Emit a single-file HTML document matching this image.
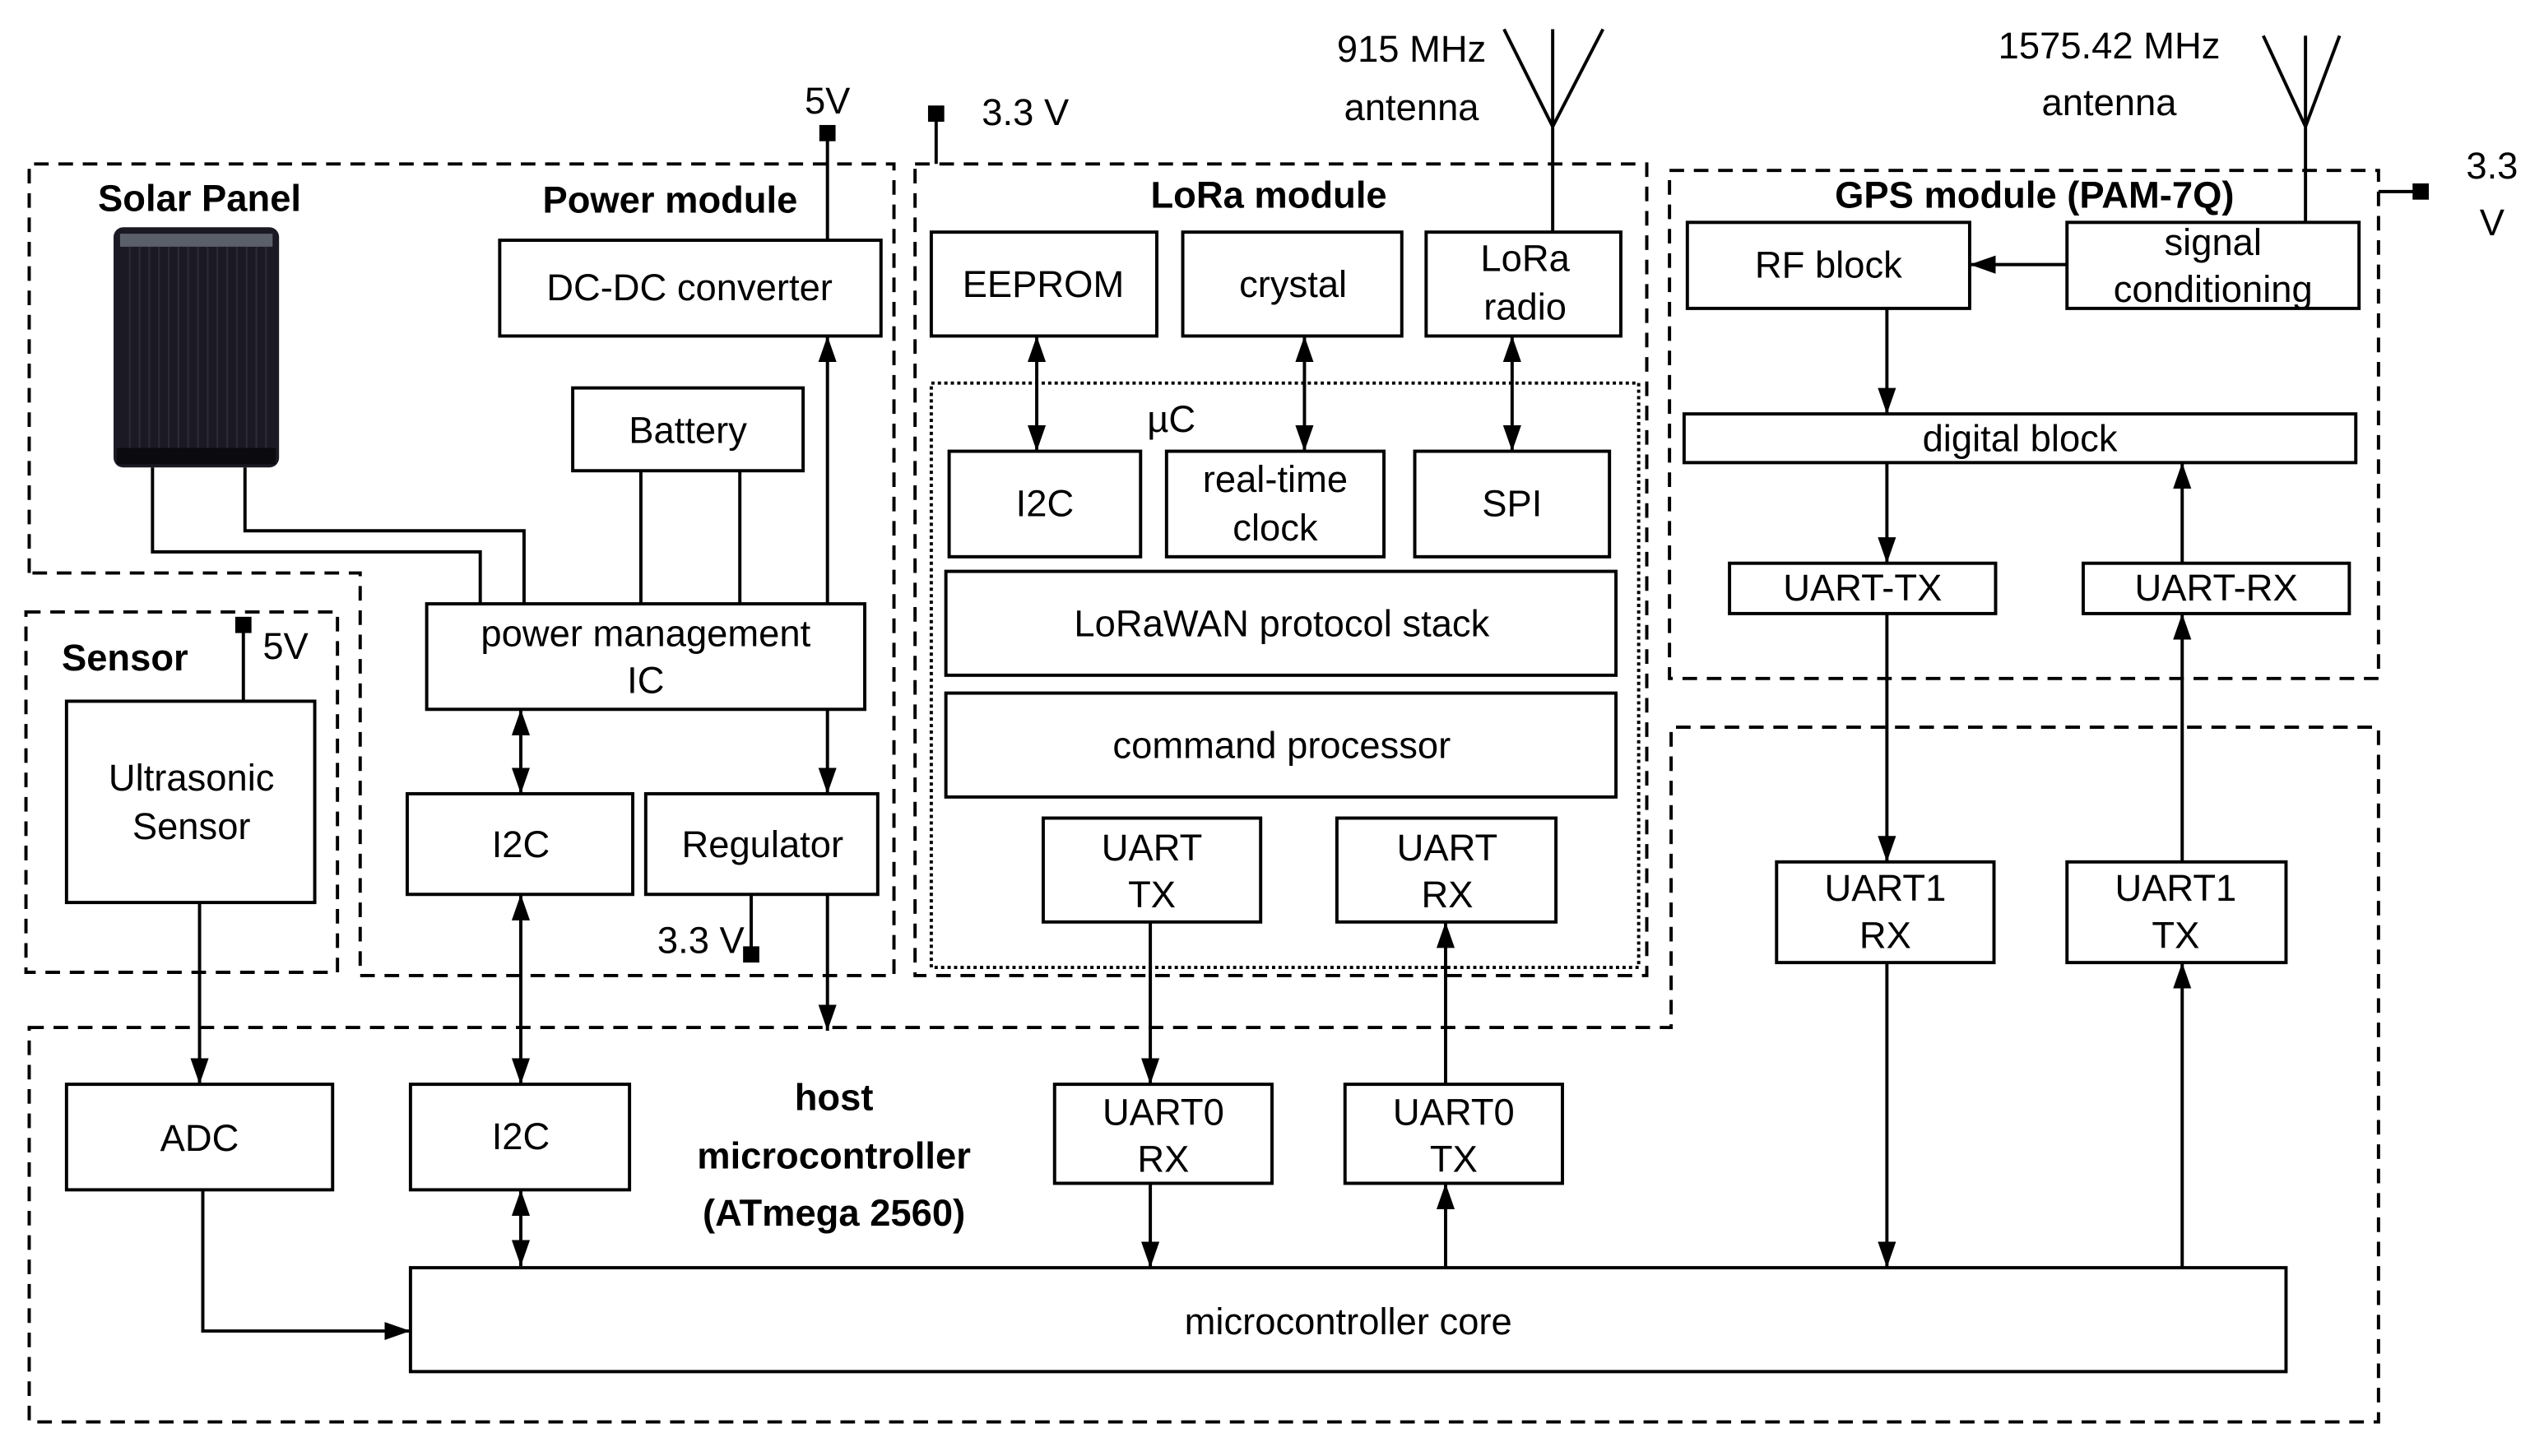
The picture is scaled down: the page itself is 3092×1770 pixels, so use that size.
<!DOCTYPE html>
<html><head><meta charset="utf-8"><style>
html,body{margin:0;padding:0;background:#fff;}
svg{display:block;}
text{font-family:"Liberation Sans",sans-serif;font-size:23px;fill:#000;text-anchor:middle;}
.b{font-weight:bold;}
</style></head><body>
<svg width="3092" height="1770" viewBox="0 0 1568 897" preserveAspectRatio="none" xmlns="http://www.w3.org/2000/svg">
<defs>
<marker id="ah" viewBox="0 0 10 10" refX="10" refY="5" markerWidth="16" markerHeight="16" orient="auto-start-reverse" markerUnits="userSpaceOnUse"><path d="M0,1.5 L10,5 L0,8.5 z" fill="#000"/></marker>
</defs>
<g fill="none" stroke="#000" stroke-width="2" stroke-dasharray="9,6">
<path d="M18,353 V101 H551 V601 H222 V353 Z"/>
<rect x="16" y="377" width="192" height="222"/>
<rect x="564" y="101" width="451" height="500"/>
<rect x="1029" y="105" width="437" height="313"/>
<path d="M18,633 H1030 V448 H1466 V876 H18 Z"/>
</g>
<rect x="574" y="236" width="436" height="360" fill="none" stroke="#000" stroke-width="2" stroke-dasharray="2,2"/>

<!-- solar panel -->
<rect x="70" y="140" width="102" height="148" rx="6" fill="#1b1a24"/>
<rect x="74" y="144" width="94" height="8" fill="#5b5f6a"/>
<g stroke="#2c2b38" stroke-width="1">
<path d="M80,152V276M86,152V276M92,152V276M98,152V276M104,152V276M110,152V276M116,152V276M122,152V276M128,152V276M134,152V276M140,152V276M146,152V276M152,152V276M158,152V276M164,152V276"/>
</g>
<rect x="72" y="276" width="98" height="10" fill="#0a0a0f"/>

<g fill="none" stroke="#000" stroke-width="2">
<rect x="308" y="148" width="235" height="59"/>
<rect x="353" y="239" width="142" height="51"/>
<rect x="263" y="372" width="270" height="65"/>
<rect x="251" y="489" width="139" height="62"/>
<rect x="398" y="489" width="143" height="62"/>
<rect x="41" y="432" width="153" height="124"/>
<rect x="41" y="668" width="164" height="65"/>
<rect x="253" y="668" width="135" height="65"/>
<rect x="253" y="781" width="1156" height="64"/>
<rect x="574" y="143" width="139" height="64"/>
<rect x="729" y="143" width="135" height="64"/>
<rect x="879" y="143" width="120" height="64"/>
<rect x="585" y="278" width="118" height="65"/>
<rect x="719" y="278" width="134" height="65"/>
<rect x="872" y="278" width="120" height="65"/>
<rect x="583" y="352" width="413" height="64"/>
<rect x="583" y="427" width="413" height="64"/>
<rect x="643" y="504" width="134" height="64"/>
<rect x="824" y="504" width="135" height="64"/>
<rect x="650" y="668" width="134" height="61"/>
<rect x="829" y="668" width="134" height="61"/>
<rect x="1040" y="137" width="174" height="53"/>
<rect x="1274" y="137" width="180" height="53"/>
<rect x="1038" y="255" width="414" height="30"/>
<rect x="1066" y="347" width="164" height="31"/>
<rect x="1284" y="347" width="164" height="31"/>
<rect x="1095" y="531" width="134" height="62"/>
<rect x="1274" y="531" width="135" height="62"/>

<path d="M94,288 V340 H296 V372"/>
<path d="M151,288 V327 H323 V372"/>
<path d="M395,290 V372 M456,290 V372"/>
<path d="M510,148 V84"/>
<path d="M463,551 V588"/>
<path d="M150,385 V432"/>
<path d="M577,70 V101"/>
<path d="M957,143 V18 M957,78 L927,18 M957,78 L988,18"/>
<path d="M1421,137 V22 M1421,78 L1395,22 M1421,78 L1442,22"/>
<path d="M1466,118 H1490"/>

<path d="M510,372 V207" marker-end="url(#ah)"/>
<path d="M321,437 V489" marker-start="url(#ah)" marker-end="url(#ah)"/>
<path d="M510,437 V489" marker-end="url(#ah)"/>
<path d="M510,551 V635" marker-end="url(#ah)"/>
<path d="M123,556 V668" marker-end="url(#ah)"/>
<path d="M321,551 V668" marker-start="url(#ah)" marker-end="url(#ah)"/>
<path d="M321,733 V780" marker-start="url(#ah)" marker-end="url(#ah)"/>
<path d="M125,733 V820 H253" marker-end="url(#ah)"/>
<path d="M639,207 V278" marker-start="url(#ah)" marker-end="url(#ah)"/>
<path d="M804,207 V278" marker-start="url(#ah)" marker-end="url(#ah)"/>
<path d="M932,207 V278" marker-start="url(#ah)" marker-end="url(#ah)"/>
<path d="M709,568 V668" marker-end="url(#ah)"/>
<path d="M709,729 V781" marker-end="url(#ah)"/>
<path d="M891,668 V568" marker-end="url(#ah)"/>
<path d="M891,781 V729" marker-end="url(#ah)"/>
<path d="M1274,163 H1214" marker-end="url(#ah)"/>
<path d="M1163,190 V255" marker-end="url(#ah)"/>
<path d="M1163,285 V347" marker-end="url(#ah)"/>
<path d="M1345,347 V285" marker-end="url(#ah)"/>
<path d="M1163,378 V531" marker-end="url(#ah)"/>
<path d="M1345,531 V378" marker-end="url(#ah)"/>
<path d="M1163,593 V781" marker-end="url(#ah)"/>
<path d="M1345,781 V593" marker-end="url(#ah)"/>
</g>
<g fill="#000">
<rect x="505" y="77" width="10" height="10"/>
<rect x="458" y="583" width="10" height="10"/>
<rect x="145" y="380" width="10" height="10"/>
<rect x="572" y="65" width="10" height="10"/>
<rect x="1487" y="113" width="10" height="10"/>
</g>

<text class="b" x="123" y="130">Solar Panel</text>
<text class="b" x="413" y="131">Power module</text>
<text class="b" x="782" y="128">LoRa module</text>
<text class="b" x="1254" y="128">GPS module (PAM-7Q)</text>
<text class="b" x="77" y="413">Sensor</text>
<text class="b" x="514" y="684">host</text>
<text class="b" x="514" y="720">microcontroller</text>
<text class="b" x="514" y="755">(ATmega 2560)</text>

<text x="510" y="70">5V</text>
<text x="632" y="77">3.3 V</text>
<text x="432" y="587">3.3 V</text>
<text x="176" y="406">5V</text>
<text x="870" y="38">915 MHz</text>
<text x="870" y="74">antenna</text>
<text x="1300" y="36">1575.42 MHz</text>
<text x="1300" y="71">antenna</text>
<text x="1536" y="110">3.3</text>
<text x="1536" y="145">V</text>

<text x="425" y="185">DC-DC converter</text>
<text x="424" y="273">Battery</text>
<text x="398" y="398">power management</text>
<text x="398" y="427">IC</text>
<text x="321" y="528">I2C</text>
<text x="470" y="528">Regulator</text>
<text x="118" y="487">Ultrasonic</text>
<text x="118" y="517">Sensor</text>
<text x="123" y="709">ADC</text>
<text x="321" y="708">I2C</text>
<text x="831" y="822">microcontroller core</text>
<text x="643" y="183">EEPROM</text>
<text x="797" y="183">crystal</text>
<text x="940" y="167">LoRa</text>
<text x="940" y="197">radio</text>
<text x="722" y="266">µC</text>
<text x="644" y="318">I2C</text>
<text x="786" y="303">real-time</text>
<text x="786" y="333">clock</text>
<text x="932" y="318">SPI</text>
<text x="790" y="392">LoRaWAN protocol stack</text>
<text x="790" y="467">command processor</text>
<text x="710" y="530">UART</text>
<text x="710" y="559">TX</text>
<text x="892" y="530">UART</text>
<text x="892" y="559">RX</text>
<text x="717" y="693">UART0</text>
<text x="717" y="722">RX</text>
<text x="896" y="693">UART0</text>
<text x="896" y="722">TX</text>
<text x="1127" y="171">RF block</text>
<text x="1364" y="157">signal</text>
<text x="1364" y="186">conditioning</text>
<text x="1245" y="278">digital block</text>
<text x="1148" y="370">UART-TX</text>
<text x="1366" y="370">UART-RX</text>
<text x="1162" y="555">UART1</text>
<text x="1162" y="584">RX</text>
<text x="1341" y="555">UART1</text>
<text x="1341" y="584">TX</text>
</svg>
</body></html>
